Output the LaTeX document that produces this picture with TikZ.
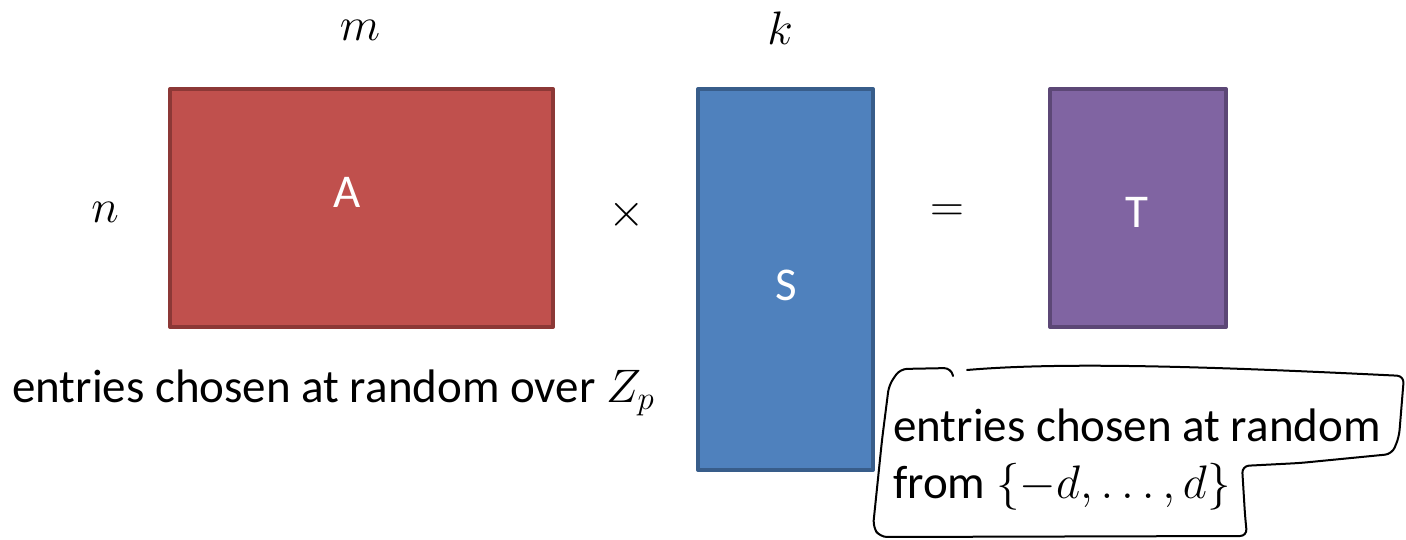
\RequirePackage{fix-cm}
\documentclass[tikz,border=0pt]{standalone}
\usepackage{fontspec}
\setmainfont{Carlito}
\definecolor{matA}{HTML}{C0504D}
\definecolor{matAline}{HTML}{8C3836}
\definecolor{matS}{HTML}{4F81BD}
\definecolor{matSline}{HTML}{385D8A}
\definecolor{matT}{HTML}{8064A2}
\definecolor{matTline}{HTML}{5C4776}
\begin{document}
\begin{tikzpicture}[x=1pt,y=-1pt,line cap=round,line join=round,
  big/.style={font=\fontsize{47}{57}\selectfont},
  matbox/.style={draw,line width=4pt,inner sep=0pt,rectangle},
  matname/.style={big,text=white,inner sep=0pt}]
  \useasboundingbox (0,0) rectangle (1406,540);
  \node[matbox,fill=matA,draw=matAline,minimum width=383pt,minimum height=238pt] (A) at (361.5,208) {};
  \node[matbox,fill=matS,draw=matSline,minimum width=175pt,minimum height=381pt] (S) at (785.5,279.5) {};
  \node[matbox,fill=matT,draw=matTline,minimum width=176pt,minimum height=238pt] (T) at (1138,208) {};
  \node[matname] (Aname) at (347,192) {A};
  \node[matname] (Sname) at (786,285) {S};
  \node[matname] (Tname) at (1137,212) {T};
  \node[big,inner sep=0pt] (m) at (360,30) {$m$};
  \node[big,inner sep=0pt] (k) at (780,28) {$k$};
  \node[big,inner sep=0pt] (n) at (105,212) {$n$};
  \node[big,inner sep=0pt] (times) at (627,215) {$\times$};
  \node[big,inner sep=0pt] (eq) at (947,213) {$=$};
  \node[big,inner sep=0pt,anchor=base west] (overZp) at (12,402) {entries chosen at random over $Z_p$};
  \node[big,inner sep=0pt,anchor=base west,align=left] (overd) at (893,498) {entries chosen at random\\from $\{-d,\ldots,d\}$};
  \draw[line width=2pt,rounded corners=7pt] (967,370) .. controls (1060,362) and (1200,366) .. (1404,376)
    -- (1399,437) -- (1392,454) -- (1300,463) -- (1242,466) -- (1245,515) -- (1247,536)
    -- (880,537) -- (873,527) -- (882,440) -- (889,385) -- (900,369) -- (951,368) -- (953,376);
\end{tikzpicture}
\end{document}
